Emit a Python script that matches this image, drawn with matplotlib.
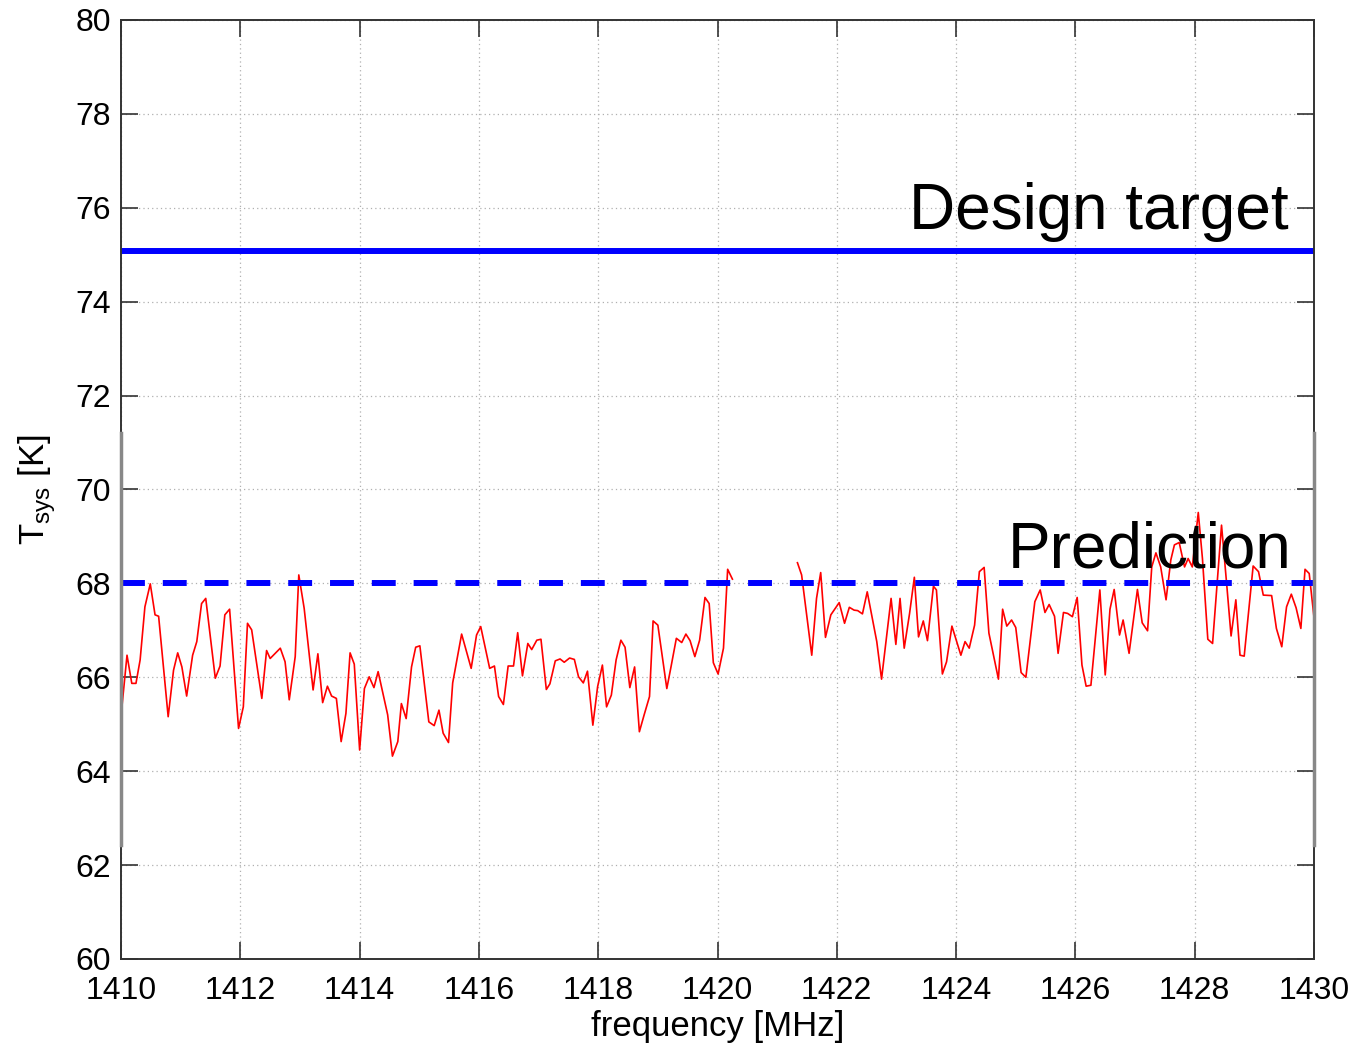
import matplotlib
matplotlib.use("Agg")
import matplotlib.pyplot as plt

plt.rcParams["font.family"] = ["Liberation Sans", "DejaVu Sans"]

# measured Tsys, below HI line (1410 - 1420.25 MHz)
freq_lo = [
    1410.02, 1410.10, 1410.18, 1410.25, 1410.32, 1410.40, 1410.49, 1410.57, 1410.63, 1410.79,
    1410.88, 1410.95, 1411.02, 1411.10, 1411.20, 1411.27, 1411.35, 1411.42, 1411.58, 1411.66,
    1411.74, 1411.82, 1411.97, 1412.05, 1412.12, 1412.19, 1412.36, 1412.44, 1412.50, 1412.67,
    1412.75, 1412.82, 1412.92, 1412.98, 1413.07, 1413.22, 1413.30, 1413.38, 1413.46, 1413.53,
    1413.61, 1413.69, 1413.77, 1413.84, 1413.91, 1414.00, 1414.08, 1414.16, 1414.24, 1414.31,
    1414.47, 1414.55, 1414.64, 1414.70, 1414.78, 1414.87, 1414.94, 1415.01, 1415.16, 1415.25,
    1415.33, 1415.40, 1415.49, 1415.56, 1415.71, 1415.87, 1415.96, 1416.03, 1416.18, 1416.26,
    1416.33, 1416.41, 1416.49, 1416.58, 1416.65, 1416.73, 1416.82, 1416.885, 1416.97, 1417.04,
    1417.13, 1417.19, 1417.28, 1417.36, 1417.43, 1417.52, 1417.60, 1417.67, 1417.75, 1417.82,
    1417.91, 1417.99, 1418.07, 1418.14, 1418.22, 1418.30, 1418.38, 1418.45, 1418.53, 1418.61,
    1418.69, 1418.77, 1418.86, 1418.92, 1419.00, 1419.15, 1419.22, 1419.31, 1419.40, 1419.47,
    1419.54, 1419.62, 1419.70, 1419.79, 1419.86, 1419.93, 1420.01, 1420.10, 1420.17, 1420.25,
]
tsys_lo = [
    65.44, 66.47, 65.87, 65.87, 66.37, 67.50, 67.99, 67.33, 67.30, 65.16,
    66.15, 66.52, 66.22, 65.60, 66.47, 66.76, 67.57, 67.68, 65.98, 66.24,
    67.33, 67.45, 64.91, 65.37, 67.15, 67.01, 65.55, 66.57, 66.40, 66.62,
    66.33, 65.52, 66.44, 68.18, 67.47, 65.73, 66.50, 65.46, 65.81, 65.60,
    65.55, 64.63, 65.23, 66.52, 66.28, 64.45, 65.76, 66.01, 65.78, 66.12,
    65.20, 64.32, 64.63, 65.44, 65.12, 66.22, 66.64, 66.67, 65.05, 64.97,
    65.30, 64.81, 64.61, 65.88, 66.92, 66.19, 66.90, 67.08, 66.19, 66.24,
    65.59, 65.42, 66.24, 66.24, 66.95, 66.03, 66.72, 66.59, 66.79, 66.81,
    65.74, 65.86, 66.35, 66.39, 66.32, 66.41, 66.38, 66.01, 65.88, 66.13,
    64.98, 65.80, 66.26, 65.37, 65.62, 66.37, 66.79, 66.64, 65.78, 66.22,
    64.84, 65.20, 65.59, 67.20, 67.11, 65.76, 66.22, 66.83, 66.74, 66.92,
    66.78, 66.44, 66.79, 67.70, 67.57, 66.31, 66.07, 66.62, 68.30, 68.09,
]

# measured Tsys, above HI line (1421.34 - 1430 MHz)
freq_hi = [
    1421.34, 1421.41, 1421.58, 1421.66, 1421.73, 1421.81, 1421.90, 1422.04, 1422.13, 1422.21,
    1422.29, 1422.35, 1422.43, 1422.51, 1422.67, 1422.75, 1422.91, 1422.99, 1423.06, 1423.13,
    1423.22, 1423.30, 1423.37, 1423.45, 1423.52, 1423.62, 1423.67, 1423.77, 1423.84, 1423.93,
    1424.08, 1424.15, 1424.22, 1424.31, 1424.39, 1424.47, 1424.55, 1424.71, 1424.78, 1424.85,
    1424.93, 1425.00, 1425.09, 1425.17, 1425.32, 1425.41, 1425.49, 1425.56, 1425.65, 1425.71,
    1425.80, 1425.87, 1425.95, 1426.03, 1426.11, 1426.18, 1426.26, 1426.41, 1426.50, 1426.58,
    1426.65, 1426.74, 1426.80, 1426.90, 1427.04, 1427.12, 1427.21, 1427.28, 1427.35, 1427.43,
    1427.52, 1427.60, 1427.66, 1427.74, 1427.83, 1427.89, 1427.96, 1428.06, 1428.13, 1428.22,
    1428.30, 1428.45, 1428.54, 1428.61, 1428.69, 1428.76, 1428.83, 1428.98, 1429.07, 1429.15,
    1429.29, 1429.37, 1429.46, 1429.54, 1429.62, 1429.70, 1429.78, 1429.85, 1429.92, 1430.00,
]
tsys_hi = [
    68.44, 68.18, 66.47, 67.68, 68.23, 66.85, 67.33, 67.59, 67.15, 67.49,
    67.43, 67.42, 67.35, 67.82, 66.76, 65.96, 67.68, 66.70, 67.68, 66.62,
    67.36, 68.13, 66.86, 67.20, 66.78, 67.94, 67.86, 66.07, 66.33, 67.09,
    66.47, 66.76, 66.62, 67.11, 68.25, 68.34, 66.94, 65.96, 67.45, 67.09,
    67.22, 67.06, 66.10, 66.00, 67.61, 67.86, 67.38, 67.55, 67.30, 66.51,
    67.38, 67.36, 67.29, 67.70, 66.26, 65.81, 65.83, 67.86, 66.05, 67.45,
    67.87, 66.90, 67.22, 66.51, 67.87, 67.16, 66.99, 68.35, 68.65, 68.35,
    67.65, 68.50, 68.82, 68.87, 68.35, 68.53, 68.35, 69.51, 68.53, 66.81,
    66.72, 69.24, 67.93, 66.88, 67.65, 66.47, 66.45, 68.37, 68.25, 67.75,
    67.74, 67.04, 66.65, 67.50, 67.77, 67.48, 67.04, 68.30, 68.21, 67.28,
]

design_target = 75.08
prediction = 68.0
edge_marks = [71.2, 62.43]

fig = plt.figure(figsize=(13.57, 10.46), dpi=100)
ax = fig.add_axes([0.0892, 0.0832, 0.8791, 0.8977])

ax.plot(freq_lo, tsys_lo, color="red", linewidth=1.2)
ax.plot(freq_hi, tsys_hi, color="red", linewidth=1.2)

ax.axhline(design_target, color="#0000ff", linewidth=4.3)
ax.axhline(prediction, color="#0000ff", linewidth=4.3, linestyle=(0, (4, 3)))

# grey marks on the left and right frame
for f in (1410, 1430):
    ax.plot([f, f], edge_marks, color="#888888", linewidth=2.5, clip_on=False, zorder=3)

ax.text(1429.58, 75.55, "Design target", fontsize=46, ha="right", va="baseline")
ax.text(1429.62, 68.33, "Prediction", fontsize=46, ha="right", va="baseline")

ax.set_xlim(1410, 1430)
ax.set_ylim(60, 80)
ax.set_xticks(range(1410, 1431, 2))
ax.set_yticks(range(60, 81, 2))
ax.tick_params(direction="in", length=12, width=1.2, labelsize=23, color="#333333",
               top=True, right=True)
ax.tick_params(axis="x", pad=12)
ax.tick_params(axis="y", pad=7)
ax.grid(True, linestyle=(0, (1, 2.5)), color="#b0b0b0", linewidth=0.9)
for sp in ax.spines.values():
    sp.set_linewidth(1.4)
    sp.set_color("#333333")

ax.set_xlabel("frequency [MHz]", fontsize=25, labelpad=3)
ax.set_ylabel(r"T$_{\mathregular{sys}}$ [K]", fontsize=25, labelpad=13)

fig.savefig("out.png", dpi=100)
